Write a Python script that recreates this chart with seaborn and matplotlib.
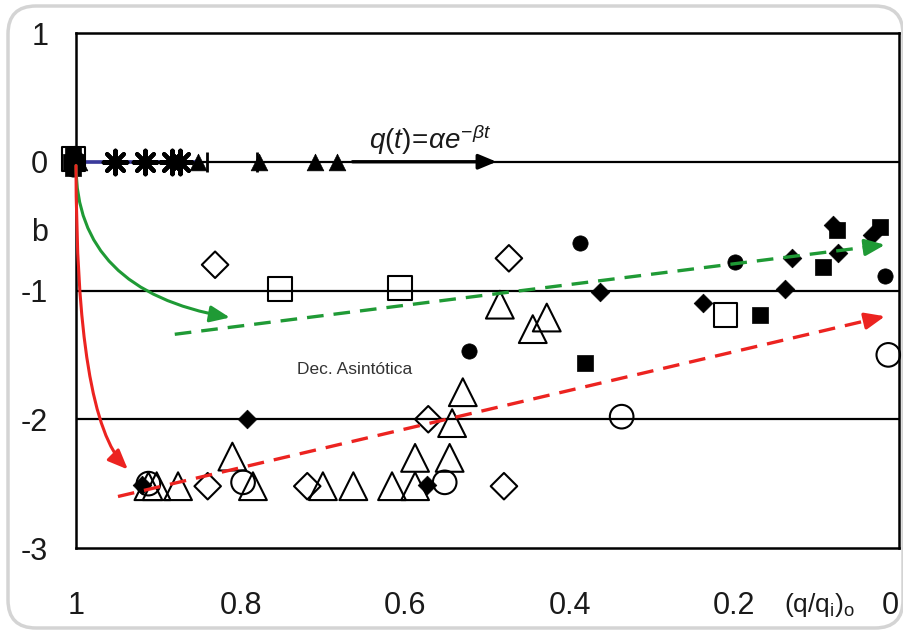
import numpy as np
import matplotlib
matplotlib.use("Agg")
import matplotlib.pyplot as plt
from matplotlib.patches import FancyBboxPatch
from matplotlib.transforms import IdentityTransform, ScaledTranslation
import seaborn as sns

# ---------------- data: decline exponent b vs normalized rate (q/qi)o ----------------
open_tri_x = [0.912, 0.902, 0.876, 0.810, 0.785, 0.700, 0.663, 0.616, 0.588, 0.588,
              0.546, 0.543, 0.530, 0.485, 0.445, 0.428]
open_tri_y = [-2.52, -2.52, -2.52, -2.29, -2.52, -2.52, -2.52, -2.52, -2.52, -2.30,
              -2.30, -2.03, -1.79, -1.11, -1.30, -1.21]

open_dia_x = [0.831, 0.474, 0.840, 0.719, 0.572, 0.480]
open_dia_y = [-0.80, -0.75, -2.52, -2.52, -2.00, -2.52]

open_sq_x = [0.752, 0.606, 0.211, 1.003]
open_sq_y = [-0.99, -0.98, -1.19, 0.02]

open_circ_x = [0.797, 0.552, 0.337, 0.013, 0.912]
open_circ_y = [-2.49, -2.49, -1.98, -1.50, -2.50]

fill_dia_x = [0.792, 0.574, 0.363, 0.238, 0.139, 0.130, 0.074, 0.080, 0.033, 0.920, 1.002]
fill_dia_y = [-2.00, -2.51, -1.01, -1.10, -0.99, -0.75, -0.71, -0.49, -0.57, -2.51, 0.05]

fill_circ_x = [0.388, 0.522, 0.199, 0.017, 1.004]
fill_circ_y = [-0.63, -1.47, -0.78, -0.89, -0.06]

fill_sq_x = [0.382, 0.169, 0.092, 0.075, 0.023, 1.004, 1.004, 0.999, 1.006]
fill_sq_y = [-1.56, -1.19, -0.82, -0.53, -0.51, 0.06, -0.05, 0.0, 0.0]

fill_tri_x = [0.852, 0.778, 0.710, 0.683, 0.996]
fill_tri_y = [0.0, 0.0, 0.0, 0.0, 0.0]

star_x = [0.953, 0.916, 0.883, 0.874]
star_y = [0.0, 0.0, 0.0, 0.0]

bar_x = [0.841, 0.780]
bar_y = [0.0, 0.0]

# guide lines and arrows (start, end)
navy_x, navy_y = [0.989, 0.853], [0.0, 0.0]
expo_x, expo_y = [0.664, 0.489], [0.0, 0.0]
green_trend_x, green_trend_y = [0.880, 0.017], [-1.34, -0.645]
red_trend_x, red_trend_y = [0.949, 0.017], [-2.60, -1.20]
green_curve_x, green_curve_y = [1.0, 0.813], [-0.03, -1.21]
red_curve_x, red_curve_y = [1.0, 0.937], [-0.03, -2.39]

y_ticks = [1, 0, -1, -2, -3]
y_labels = ["1", "0", "-1", "-2", "-3"]
x_ticks = [1.0, 0.9, 0.8, 0.7, 0.6, 0.5, 0.4, 0.3, 0.2, 0.1, 0.0]
x_labels = ["1", "", "0.8", "", "0.6", "", "0.4", "", "0.2", "", "0"]

GREEN = "#1f9a35"
RED = "#ec2320"
NAVY = "#3a3a9c"

# ---------------- figure ----------------
sns.set_theme(style="white")
plt.rcParams["font.family"] = ["Liberation Sans", "DejaVu Sans"]
plt.rcParams["mathtext.fontset"] = "custom"
plt.rcParams["mathtext.rm"] = "Liberation Sans"
plt.rcParams["mathtext.it"] = "Liberation Sans:italic"
plt.rcParams["mathtext.default"] = "regular"

fig = plt.figure(figsize=(9.04, 6.34), dpi=100)
fig.patch.set_facecolor("white")
ax = fig.add_axes([76 / 904, 86 / 634, 823 / 904, 515 / 634])
ax.set_facecolor("white")

# rounded light frame around the whole panel
frame = FancyBboxPatch((8, 6), 895, 622, boxstyle="round,pad=0,rounding_size=28",
                       transform=IdentityTransform(), fill=False,
                       edgecolor="#d4d4d4", linewidth=2.5)
fig.add_artist(frame)

ax.set_xlim(1, 0)
ax.set_ylim(-3, 1)

for yv in [0, -1, -2]:
    ax.axhline(yv, color="black", lw=1.6, zorder=1)

for side in ["left", "right", "top", "bottom"]:
    ax.spines[side].set_visible(True)
    ax.spines[side].set_color("black")
    ax.spines[side].set_linewidth(1.8)

ax.set_xticks(x_ticks)
ax.set_xticklabels(x_labels)
ax.set_yticks(y_ticks)
ax.set_yticklabels(y_labels)
ax.tick_params(axis="both", direction="out", length=8, width=1.5, color="black",
               labelsize=22, labelcolor="#1a1a1a")
ax.tick_params(axis="x", pad=23)
ax.tick_params(axis="y", pad=12)
ax.set_xlabel("")
ax.set_ylabel("")

# keep the last x label inside the panel edge
last = ax.get_xticklabels()[-1]
last.set_transform(last.get_transform() + ScaledTranslation(-6 / 72, 0, fig.dpi_scale_trans))

# navy segment along b = 0
ax.plot(navy_x, navy_y, color=NAVY, lw=2.6, zorder=2, solid_capstyle="butt")


def open_pts(x, y, marker, ms, lw=1.5):
    sns.scatterplot(x=x, y=y, marker=marker, s=ms ** 2, facecolor="none",
                    edgecolor="black", linewidth=lw, zorder=3, clip_on=False,
                    legend=False, ax=ax)
    ax.collections[-1].set_facecolor("none")


def filled_pts(x, y, marker, ms):
    sns.scatterplot(x=x, y=y, marker=marker, s=ms ** 2, color="black",
                    edgecolor="black", linewidth=0.5, zorder=3, clip_on=False,
                    legend=False, ax=ax)


def line_pts(x, y, marker, ms, lw):
    sns.scatterplot(x=x, y=y, marker=marker, s=ms ** 2, color="black",
                    linewidth=lw, zorder=3, clip_on=False, legend=False, ax=ax)


open_pts(open_tri_x, open_tri_y, "^", 20)
open_pts(open_dia_x, open_dia_y, "D", 13.5)
open_pts(open_sq_x, open_sq_y, "s", 17)
open_pts(open_circ_x, open_circ_y, "o", 17)
filled_pts(fill_dia_x, fill_dia_y, "D", 9.5)
filled_pts(fill_circ_x, fill_circ_y, "o", 11)
filled_pts(fill_sq_x, fill_sq_y, "s", 11.5)
filled_pts(fill_tri_x, fill_tri_y, "^", 12)
line_pts(star_x, star_y, (8, 2, 0), 17, 3)
line_pts(bar_x, bar_y, "|", 15, 2)

head = "-|>,head_length=0.6,head_width=0.25"

# exponential decline arrow along b = 0
ax.annotate("", xy=(expo_x[1], expo_y[1]), xytext=(expo_x[0], expo_y[0]),
            arrowprops=dict(arrowstyle=head, color="black", lw=2.4,
                            shrinkA=0, shrinkB=0, mutation_scale=18),
            zorder=4)


def dashed_arrow(xs, ys, color):
    x0, x1 = xs
    y0, y1 = ys
    xe = x0 + 0.985 * (x1 - x0)
    ye = y0 + 0.985 * (y1 - y0)
    ax.plot([x0, xe], [y0, ye], color=color, lw=2.4, ls=(0, (5, 3)), zorder=5,
            dash_capstyle="butt")
    ax.annotate("", xy=(x1, y1), xytext=(xe, ye),
                arrowprops=dict(arrowstyle=head, color=color, lw=2.4,
                                shrinkA=0, shrinkB=0, mutation_scale=20),
                zorder=5)


dashed_arrow(green_trend_x, green_trend_y, GREEN)
dashed_arrow(red_trend_x, red_trend_y, RED)

# curved transitions from b = 0
ax.annotate("", xy=(green_curve_x[1], green_curve_y[1]),
            xytext=(green_curve_x[0], green_curve_y[0]),
            arrowprops=dict(arrowstyle=head, color=GREEN, lw=2.2, shrinkA=0, shrinkB=0,
                            mutation_scale=20,
                            connectionstyle="angle3,angleA=90,angleB=-10"),
            zorder=5)
ax.annotate("", xy=(red_curve_x[1], red_curve_y[1]),
            xytext=(red_curve_x[0], red_curve_y[0]),
            arrowprops=dict(arrowstyle=head, color=RED, lw=2.2, shrinkA=0, shrinkB=0,
                            mutation_scale=20,
                            connectionstyle="angle3,angleA=90,angleB=-45"),
            zorder=5)

# annotations
ax.text(0.570, 0.17, r"$\mathit{q(t)\!=\!\alpha e^{-\beta t}}$", fontsize=20,
        ha="center", va="center", color="#1a1a1a", zorder=6)
ax.text(0.662, -1.615, "Dec. Asintótica", fontsize=12.5, ha="center", va="center",
        color="#333333", zorder=6)
ax.text(-0.044, -0.55, "b", fontsize=22, ha="center", va="center", color="#1a1a1a",
        transform=ax.get_yaxis_transform())
ax.text(0.097, -0.11, r"(q/q$_\mathregular{i}$)$_\mathregular{o}$", fontsize=19,
        ha="center", va="center", color="#1a1a1a",
        transform=ax.get_xaxis_transform(), clip_on=False)

fig.savefig("out.png", dpi=100, facecolor="white")
